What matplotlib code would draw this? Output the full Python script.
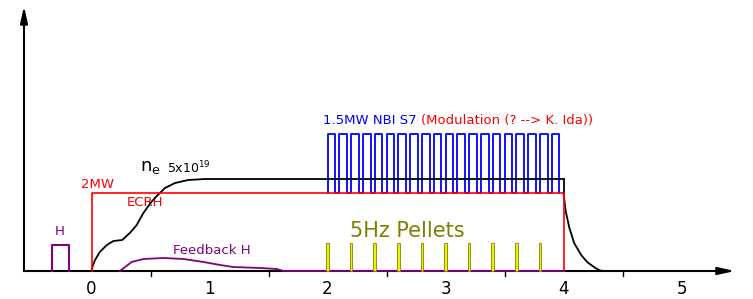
import matplotlib
matplotlib.use("Agg")
import matplotlib.pyplot as plt
from matplotlib.patches import Rectangle

# ---- data (time in s, heights in arbitrary units) ----
ecrh_start, ecrh_end, ecrh_level = 0.0, 4.0, 78
ne_t = [0.0, 0.01, 0.03, 0.07, 0.13, 0.186, 0.26, 0.325, 0.383, 0.44, 0.5, 0.553, 0.623, 0.708, 0.82, 0.962, 4.0]
ne_v = [0, 5, 11, 19, 26, 30, 31, 38, 46, 58, 68, 75, 83, 88, 91, 92, 92]
ne_decay_t = [4.0, 4.01, 4.02, 4.05, 4.09, 4.15, 4.2, 4.27, 4.31, 4.34]
ne_decay_v = [78, 68, 59, 43, 28, 16, 9, 3, 0.5, 0]
fb_t = [0.24, 0.285, 0.34, 0.44, 0.61, 0.78, 0.95, 1.09, 1.2, 1.43, 1.57, 1.63, 4.0]
fb_v = [0, 4, 9, 12, 13, 12, 9, 6, 4, 3, 2, 0, 0]
h_puff = (-0.335, -0.19, 26)
nbi_starts = [2.0 + 0.1 * k for k in range(20)]
nbi_width = 0.065
nbi_level = 137
pellet_times = [2.0, 2.2, 2.4, 2.6, 2.8, 3.0, 3.2, 3.4, 3.6, 3.8]
pellet_height = 28
pellet_width = 0.022
xtick_labels = ["0", "1", "2", "3", "4", "5"]
minor_ticks = [0.5, 1.5, 2.5, 3.5, 4.5]

W, H = 753, 299
fig = plt.figure(figsize=(W / 100, H / 100), dpi=100)
ax = fig.add_axes([0, 0, 1, 1])
x0px, sx = 91.5, 118.0
base_py = 271
ax.set_xlim((0 - x0px) / sx, (W - x0px) / sx)
ax.set_ylim(base_py - H, base_py)
ax.axis("off")

lw = 1.3
purple = "#800080"
olive = "#808000"

# NBI pulses (blue)
bx, by = [], []
for s in nbi_starts:
    bx += [s, s, s + nbi_width, s + nbi_width]
    by += [ecrh_level, nbi_level, nbi_level, ecrh_level]
ax.plot(bx, by, color="blue", lw=lw, zorder=3)

# ne (black)
ax.plot(ne_t, ne_v, color="black", lw=lw, zorder=4)
ax.plot([4.0, 4.0], [ne_v[-1], ecrh_level], color="black", lw=lw, zorder=4)
ax.plot(ne_decay_t, ne_decay_v, color="black", lw=lw, zorder=4)

# ECRH (red)
ax.plot([ecrh_start, ecrh_start, ecrh_end, ecrh_end], [0, ecrh_level, ecrh_level, 0],
        color="red", lw=1.2, zorder=5)

# Feedback H (purple)
ax.plot(fb_t, fb_v, color=purple, lw=lw, zorder=6)

# H puff box
ax.plot([h_puff[0], h_puff[0], h_puff[1], h_puff[1]], [0, h_puff[2], h_puff[2], 0],
        color=purple, lw=1.5, zorder=6)

# pellets
for t in pellet_times:
    ax.add_patch(Rectangle((t - pellet_width / 2, 0), pellet_width, pellet_height,
                           facecolor="#f0f000", edgecolor=olive, lw=0.6, zorder=7))

# axes with arrows
xl = (24 - x0px) / sx
ax.annotate("", xy=((735 - x0px) / sx, 0), xytext=(xl, 0),
            arrowprops=dict(arrowstyle="-|>,head_length=1.0,head_width=0.22", color="black", lw=1.5,
                            shrinkA=0, shrinkB=0), zorder=2)
ax.annotate("", xy=(xl, base_py - 6), xytext=(xl, 0),
            arrowprops=dict(arrowstyle="-|>,head_length=1.0,head_width=0.22", color="black", lw=1.5,
                            shrinkA=0, shrinkB=0), zorder=2)

# ticks
for m in minor_ticks:
    ax.plot([m, m], [0, -5], color="black", lw=1.0)
for i, lab in enumerate(xtick_labels):
    ax.text(i, -9, lab, ha="center", va="top", fontsize=12)

# texts
ax.text(-0.27, 33, "H", color=purple, ha="center", va="bottom", fontsize=9.5)
ax.text(1.02, 21, "Feedback H", color=purple, ha="center", va="center", fontsize=9.5)
ax.text(0.05, 86, "2MW", color="red", ha="center", va="center", fontsize=9.5)
ax.text(0.45, 69, "ECRH", color="red", ha="center", va="center", fontsize=9.5)
ax.text(0.41, 95, r"n$_\mathregular{e}$", color="black", ha="left", va="bottom", fontsize=13)
ax.text(0.64, 95, r"5x10$^{19}$", color="black", ha="left", va="bottom", fontsize=9)
ax.text((323 - x0px) / sx, 144, "1.5MW NBI S7", color="blue", ha="left", va="bottom", fontsize=9.5)
ax.text((421 - x0px) / sx, 144, "(Modulation (? --> K. Ida))", color="red", ha="left", va="bottom", fontsize=9.5)
ax.text((350 - x0px) / sx, 40, "5Hz Pellets", color=olive, ha="left", va="center", fontsize=15)

fig.savefig("out.png", dpi=100)
